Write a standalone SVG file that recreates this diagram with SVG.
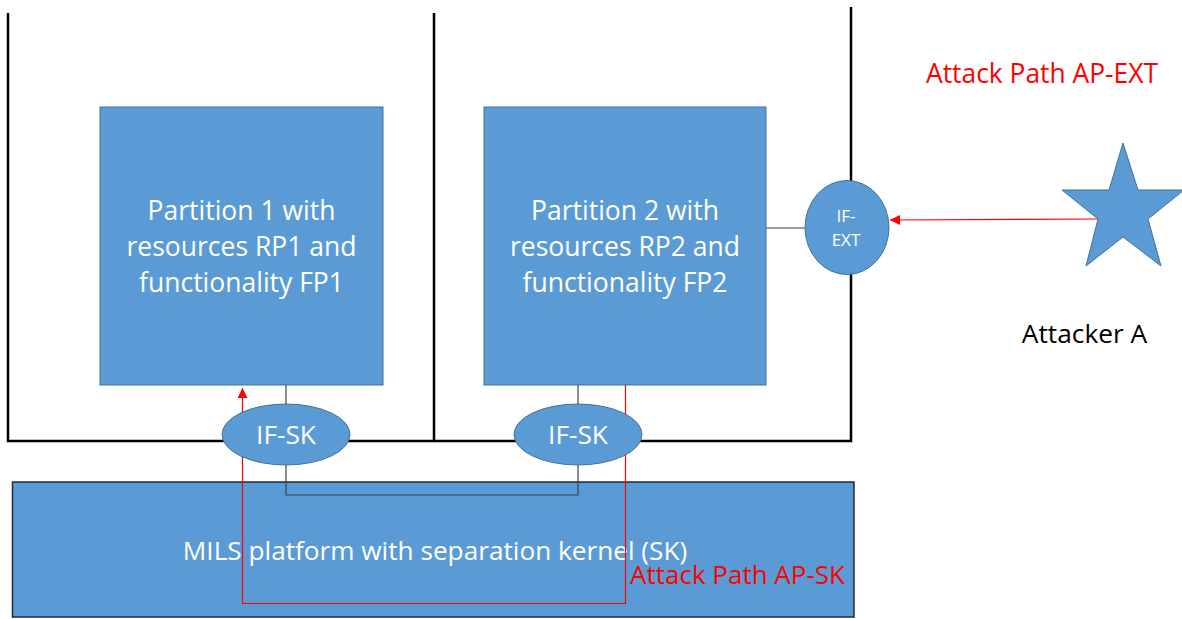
<svg xmlns="http://www.w3.org/2000/svg" width="1182" height="619" viewBox="0 0 1182 619">
<defs>
<style>
.box{fill:#5B9BD5;stroke:#41719C;stroke-width:1}
.frame{fill:none;stroke:#000;stroke-width:2.5}
.conn{fill:none;stroke:#404040;stroke-width:1.2}
.red{fill:none;stroke:#FF0000;stroke-width:1.2}
.wt{fill:#fff;font-family:"Open Sans","Liberation Sans",sans-serif;text-anchor:middle}
.rt{fill:#FF0000;font-family:"Open Sans","Liberation Sans",sans-serif}
</style>
<marker id="ah" viewBox="0 0 10 10" refX="10" refY="5" markerWidth="10" markerHeight="10" markerUnits="userSpaceOnUse" orient="auto">
<path d="M0,0 L10,5 L0,10 Z" fill="#FF0000"/>
</marker>
</defs>
<rect width="1182" height="619" fill="#fff"/>
<g id="frames">
<path class="frame" d="M8,13 V441 H434 V13"/>
<path class="frame" d="M434,441 H851 V7"/>
</g>
<g id="platform">
<rect x="12.5" y="482" width="841.5" height="135" fill="#5B9BD5" stroke="#1F2A38" stroke-width="1.5"/>
<text class="wt" x="435" y="560" font-size="26.2">MILS platform with separation kernel (SK)</text>
</g>
<g id="connectors">
<path class="conn" d="M286,385 V404"/>
<path class="conn" d="M578,385 V404"/>
<path class="conn" d="M286,465 V495 H578 V465"/>
<path class="conn" d="M766,228 H805" stroke="#707070"/>
<path class="red" d="M625.5,385 V603.5 H242.5 V388" marker-end="url(#ah)" stroke="#FF3030"/>
<path class="red" d="M1098,219 L890,220" marker-end="url(#ah)" stroke="#FF6060"/>
</g>
<g id="partition1">
<rect class="box" x="100" y="107" width="283" height="278"/>
<text class="wt" font-size="26.5"><tspan x="241.5" y="220">Partition 1 with</tspan><tspan x="241.5" y="256">resources RP1 and</tspan><tspan x="241.5" y="292">functionality FP1</tspan></text>
</g>
<g id="partition2">
<rect class="box" x="484" y="107" width="282" height="278"/>
<text class="wt" font-size="26.5"><tspan x="625" y="220">Partition 2 with</tspan><tspan x="625" y="256">resources RP2 and</tspan><tspan x="625" y="292">functionality FP2</tspan></text>
</g>
<g id="if-sk-1">
<ellipse class="box" cx="286" cy="434.5" rx="64" ry="30.5"/>
<text class="wt" x="286" y="444" font-size="26.3">IF-SK</text>
</g>
<g id="if-sk-2">
<ellipse class="box" cx="578" cy="434.5" rx="64" ry="30.5"/>
<text class="wt" x="578" y="444" font-size="26.3">IF-SK</text>
</g>
<g id="if-ext">
<ellipse class="box" cx="847" cy="227.5" rx="42" ry="47"/>
<text class="wt" font-size="17"><tspan x="846" y="222">IF-</tspan><tspan x="846" y="246">EXT</tspan></text>
</g>
<g id="attacker">
<polygon class="box" points="1123,143 1138,190 1184,190 1148,219 1161,266 1123,237 1086,266 1098,219 1062,190 1109,190"/>
<text x="1084.5" y="343" font-size="26.3" fill="#000" font-family="'Open Sans','Liberation Sans',sans-serif" text-anchor="middle">Attacker A</text>
</g>
<g id="labels">
<text class="rt" x="926" y="83" font-size="26.4">Attack Path AP-EXT</text>
<text class="rt" x="630" y="584" font-size="26">Attack Path AP-SK</text>
</g>
</svg>
